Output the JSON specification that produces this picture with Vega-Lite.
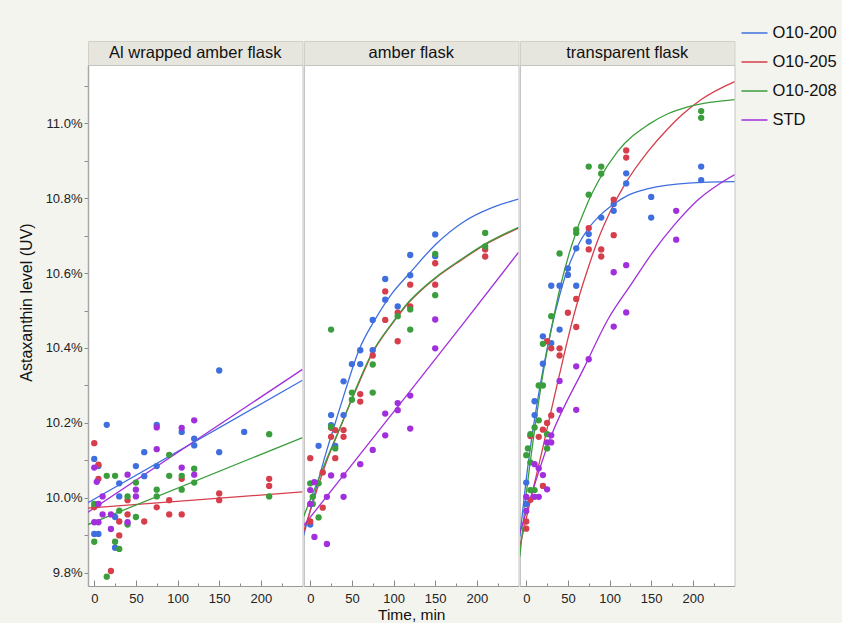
{
"$schema": "https://vega.github.io/schema/vega-lite/v6.json",
"background": "#f4f4ef",
"padding": {"left": 17, "top": 19, "right": 4, "bottom": 0},
"config": {
 "font": "Liberation Sans",
 "view": {"stroke": "#c4c4c4", "fill": "white"},
 "axis": {"grid": false, "labelFontSize": 13, "labelColor": "#222", "titleFontSize": 16, "titleFontWeight": "normal", "titleColor": "#111", "domainColor": "#9a9a9a", "tickColor": "#8a8a8a", "labelFont": "Liberation Sans", "titleFont": "Liberation Sans"},
 "legend": {"labelFontSize": 16.5, "labelFont": "Liberation Sans", "labelColor": "#111", "padding": 0}
},
"datasets": {
 "strips": [{"p": 1, "name": "Al wrapped amber flask"}, {"p": 2, "name": "amber flask"}, {"p": 3, "name": "transparent flask"}],
 "pts": [
 {"p":1,"s":"O10-200","t":0,"v":10.104},{"p":1,"s":"O10-200","t":0,"v":9.904},{"p":1,"s":"O10-200","t":5,"v":10.085},{"p":1,"s":"O10-200","t":5,"v":9.904},{"p":1,"s":"O10-200","t":15,"v":10.195},{"p":1,"s":"O10-200","t":25,"v":9.949},{"p":1,"s":"O10-200","t":25,"v":9.867},{"p":1,"s":"O10-200","t":30,"v":10.039},{"p":1,"s":"O10-200","t":30,"v":10.004},{"p":1,"s":"O10-200","t":50,"v":10.085},{"p":1,"s":"O10-200","t":60,"v":10.122},{"p":1,"s":"O10-200","t":60,"v":10.058},{"p":1,"s":"O10-200","t":75,"v":10.195},{"p":1,"s":"O10-200","t":75,"v":10.085},{"p":1,"s":"O10-200","t":105,"v":10.176},{"p":1,"s":"O10-200","t":120,"v":10.158},{"p":1,"s":"O10-200","t":120,"v":10.140},{"p":1,"s":"O10-200","t":150,"v":10.122},{"p":1,"s":"O10-200","t":150,"v":10.34},{"p":1,"s":"O10-200","t":180,"v":10.176},
 {"p":1,"s":"O10-205","t":0,"v":10.146},{"p":1,"s":"O10-205","t":0,"v":9.975},{"p":1,"s":"O10-205","t":5,"v":10.089},{"p":1,"s":"O10-205","t":5,"v":10.051},{"p":1,"s":"O10-205","t":20,"v":9.805},{"p":1,"s":"O10-205","t":30,"v":9.937},{"p":1,"s":"O10-205","t":30,"v":9.900},{"p":1,"s":"O10-205","t":40,"v":9.994},{"p":1,"s":"O10-205","t":40,"v":9.956},{"p":1,"s":"O10-205","t":60,"v":9.937},{"p":1,"s":"O10-205","t":75,"v":9.975},{"p":1,"s":"O10-205","t":90,"v":9.994},{"p":1,"s":"O10-205","t":90,"v":9.956},{"p":1,"s":"O10-205","t":105,"v":10.051},{"p":1,"s":"O10-205","t":105,"v":9.956},{"p":1,"s":"O10-205","t":150,"v":10.012},{"p":1,"s":"O10-205","t":150,"v":9.994},{"p":1,"s":"O10-205","t":210,"v":10.051},{"p":1,"s":"O10-205","t":210,"v":10.032},
 {"p":1,"s":"O10-208","t":0,"v":9.984},{"p":1,"s":"O10-208","t":0,"v":9.883},{"p":1,"s":"O10-208","t":15,"v":10.059},{"p":1,"s":"O10-208","t":15,"v":9.790},{"p":1,"s":"O10-208","t":25,"v":10.059},{"p":1,"s":"O10-208","t":25,"v":9.883},{"p":1,"s":"O10-208","t":30,"v":9.966},{"p":1,"s":"O10-208","t":30,"v":9.864},{"p":1,"s":"O10-208","t":40,"v":10.004},{"p":1,"s":"O10-208","t":40,"v":9.929},{"p":1,"s":"O10-208","t":50,"v":10.041},{"p":1,"s":"O10-208","t":50,"v":9.949},{"p":1,"s":"O10-208","t":75,"v":10.022},{"p":1,"s":"O10-208","t":75,"v":10.004},{"p":1,"s":"O10-208","t":90,"v":10.115},{"p":1,"s":"O10-208","t":90,"v":10.059},{"p":1,"s":"O10-208","t":105,"v":10.059},{"p":1,"s":"O10-208","t":105,"v":10.022},{"p":1,"s":"O10-208","t":120,"v":10.078},{"p":1,"s":"O10-208","t":120,"v":10.041},{"p":1,"s":"O10-208","t":210,"v":10.170},{"p":1,"s":"O10-208","t":210,"v":10.004},
 {"p":1,"s":"STD","t":0,"v":10.081},{"p":1,"s":"STD","t":0,"v":9.935},{"p":1,"s":"STD","t":3,"v":10.043},{"p":1,"s":"STD","t":5,"v":9.984},{"p":1,"s":"STD","t":5,"v":9.935},{"p":1,"s":"STD","t":10,"v":10.004},{"p":1,"s":"STD","t":10,"v":9.956},{"p":1,"s":"STD","t":20,"v":9.956},{"p":1,"s":"STD","t":20,"v":9.917},{"p":1,"s":"STD","t":40,"v":10.062},{"p":1,"s":"STD","t":40,"v":9.935},{"p":1,"s":"STD","t":50,"v":10.022},{"p":1,"s":"STD","t":50,"v":10.004},{"p":1,"s":"STD","t":75,"v":10.188},{"p":1,"s":"STD","t":75,"v":10.130},{"p":1,"s":"STD","t":105,"v":10.187},{"p":1,"s":"STD","t":105,"v":10.081},{"p":1,"s":"STD","t":120,"v":10.207},{"p":1,"s":"STD","t":120,"v":10.062},
 {"p":2,"s":"O10-200","t":0,"v":9.929},{"p":2,"s":"O10-200","t":10,"v":10.139},{"p":2,"s":"O10-200","t":25,"v":10.221},{"p":2,"s":"O10-200","t":25,"v":10.194},{"p":2,"s":"O10-200","t":30,"v":10.139},{"p":2,"s":"O10-200","t":40,"v":10.311},{"p":2,"s":"O10-200","t":40,"v":10.221},{"p":2,"s":"O10-200","t":50,"v":10.357},{"p":2,"s":"O10-200","t":60,"v":10.394},{"p":2,"s":"O10-200","t":60,"v":10.357},{"p":2,"s":"O10-200","t":75,"v":10.475},{"p":2,"s":"O10-200","t":75,"v":10.394},{"p":2,"s":"O10-200","t":90,"v":10.584},{"p":2,"s":"O10-200","t":90,"v":10.529},{"p":2,"s":"O10-200","t":105,"v":10.511},{"p":2,"s":"O10-200","t":120,"v":10.648},{"p":2,"s":"O10-200","t":120,"v":10.594},{"p":2,"s":"O10-200","t":150,"v":10.703},{"p":2,"s":"O10-200","t":150,"v":10.645},
 {"p":2,"s":"O10-205","t":0,"v":10.106},{"p":2,"s":"O10-205","t":0,"v":9.937},{"p":2,"s":"O10-205","t":15,"v":10.068},{"p":2,"s":"O10-205","t":15,"v":9.974},{"p":2,"s":"O10-205","t":25,"v":10.187},{"p":2,"s":"O10-205","t":25,"v":10.163},{"p":2,"s":"O10-205","t":30,"v":10.181},{"p":2,"s":"O10-205","t":30,"v":10.106},{"p":2,"s":"O10-205","t":40,"v":10.181},{"p":2,"s":"O10-205","t":40,"v":10.163},{"p":2,"s":"O10-205","t":60,"v":10.277},{"p":2,"s":"O10-205","t":60,"v":10.257},{"p":2,"s":"O10-205","t":75,"v":10.380},{"p":2,"s":"O10-205","t":90,"v":10.551},{"p":2,"s":"O10-205","t":90,"v":10.475},{"p":2,"s":"O10-205","t":105,"v":10.494},{"p":2,"s":"O10-205","t":105,"v":10.418},{"p":2,"s":"O10-205","t":120,"v":10.569},{"p":2,"s":"O10-205","t":120,"v":10.511},{"p":2,"s":"O10-205","t":150,"v":10.626},{"p":2,"s":"O10-205","t":150,"v":10.569},{"p":2,"s":"O10-205","t":210,"v":10.663},{"p":2,"s":"O10-205","t":210,"v":10.644},
 {"p":2,"s":"O10-208","t":0,"v":10.039},{"p":2,"s":"O10-208","t":3,"v":10.003},{"p":2,"s":"O10-208","t":3,"v":9.984},{"p":2,"s":"O10-208","t":10,"v":10.039},{"p":2,"s":"O10-208","t":10,"v":9.948},{"p":2,"s":"O10-208","t":25,"v":10.449},{"p":2,"s":"O10-208","t":25,"v":10.190},{"p":2,"s":"O10-208","t":30,"v":10.132},{"p":2,"s":"O10-208","t":50,"v":10.281},{"p":2,"s":"O10-208","t":50,"v":10.262},{"p":2,"s":"O10-208","t":75,"v":10.356},{"p":2,"s":"O10-208","t":75,"v":10.281},{"p":2,"s":"O10-208","t":105,"v":10.485},{"p":2,"s":"O10-208","t":120,"v":10.503},{"p":2,"s":"O10-208","t":120,"v":10.449},{"p":2,"s":"O10-208","t":150,"v":10.651},{"p":2,"s":"O10-208","t":150,"v":10.541},{"p":2,"s":"O10-208","t":210,"v":10.707},{"p":2,"s":"O10-208","t":210,"v":10.671},
 {"p":2,"s":"STD","t":0,"v":10.021},{"p":2,"s":"STD","t":0,"v":9.984},{"p":2,"s":"STD","t":5,"v":10.042},{"p":2,"s":"STD","t":5,"v":9.896},{"p":2,"s":"STD","t":20,"v":10.003},{"p":2,"s":"STD","t":20,"v":9.877},{"p":2,"s":"STD","t":25,"v":10.060},{"p":2,"s":"STD","t":40,"v":10.060},{"p":2,"s":"STD","t":40,"v":10.003},{"p":2,"s":"STD","t":60,"v":10.090},{"p":2,"s":"STD","t":75,"v":10.128},{"p":2,"s":"STD","t":90,"v":10.225},{"p":2,"s":"STD","t":90,"v":10.167},{"p":2,"s":"STD","t":105,"v":10.253},{"p":2,"s":"STD","t":105,"v":10.234},{"p":2,"s":"STD","t":120,"v":10.273},{"p":2,"s":"STD","t":120,"v":10.185},{"p":2,"s":"STD","t":150,"v":10.476},{"p":2,"s":"STD","t":150,"v":10.399},
 {"p":3,"s":"O10-200","t":0,"v":10.041},{"p":3,"s":"O10-200","t":0,"v":9.984},{"p":3,"s":"O10-200","t":10,"v":10.258},{"p":3,"s":"O10-200","t":10,"v":10.221},{"p":3,"s":"O10-200","t":20,"v":10.431},{"p":3,"s":"O10-200","t":20,"v":10.358},{"p":3,"s":"O10-200","t":30,"v":10.566},{"p":3,"s":"O10-200","t":30,"v":10.413},{"p":3,"s":"O10-200","t":40,"v":10.566},{"p":3,"s":"O10-200","t":40,"v":10.449},{"p":3,"s":"O10-200","t":50,"v":10.612},{"p":3,"s":"O10-200","t":50,"v":10.595},{"p":3,"s":"O10-200","t":60,"v":10.666},{"p":3,"s":"O10-200","t":60,"v":10.566},{"p":3,"s":"O10-200","t":75,"v":10.704},{"p":3,"s":"O10-200","t":75,"v":10.684},{"p":3,"s":"O10-200","t":90,"v":10.748},{"p":3,"s":"O10-200","t":105,"v":10.784},{"p":3,"s":"O10-200","t":105,"v":10.766},{"p":3,"s":"O10-200","t":120,"v":10.866},{"p":3,"s":"O10-200","t":120,"v":10.839},{"p":3,"s":"O10-200","t":150,"v":10.803},{"p":3,"s":"O10-200","t":150,"v":10.748},{"p":3,"s":"O10-200","t":210,"v":10.884},{"p":3,"s":"O10-200","t":210,"v":10.848},
 {"p":3,"s":"O10-205","t":0,"v":9.937},{"p":3,"s":"O10-205","t":0,"v":9.918},{"p":3,"s":"O10-205","t":5,"v":10.165},{"p":3,"s":"O10-205","t":5,"v":9.995},{"p":3,"s":"O10-205","t":15,"v":10.163},{"p":3,"s":"O10-205","t":20,"v":10.182},{"p":3,"s":"O10-205","t":20,"v":10.032},{"p":3,"s":"O10-205","t":25,"v":10.418},{"p":3,"s":"O10-205","t":25,"v":10.200},{"p":3,"s":"O10-205","t":30,"v":10.399},{"p":3,"s":"O10-205","t":30,"v":10.220},{"p":3,"s":"O10-205","t":40,"v":10.399},{"p":3,"s":"O10-205","t":40,"v":10.380},{"p":3,"s":"O10-205","t":50,"v":10.494},{"p":3,"s":"O10-205","t":60,"v":10.531},{"p":3,"s":"O10-205","t":60,"v":10.456},{"p":3,"s":"O10-205","t":75,"v":10.720},{"p":3,"s":"O10-205","t":75,"v":10.663},{"p":3,"s":"O10-205","t":90,"v":10.663},{"p":3,"s":"O10-205","t":90,"v":10.644},{"p":3,"s":"O10-205","t":105,"v":10.796},{"p":3,"s":"O10-205","t":105,"v":10.701},{"p":3,"s":"O10-205","t":120,"v":10.927},{"p":3,"s":"O10-205","t":120,"v":10.908},
 {"p":3,"s":"O10-208","t":0,"v":10.114},{"p":3,"s":"O10-208","t":2,"v":10.132},{"p":3,"s":"O10-208","t":5,"v":10.170},{"p":3,"s":"O10-208","t":5,"v":10.095},{"p":3,"s":"O10-208","t":5,"v":10.021},{"p":3,"s":"O10-208","t":10,"v":10.188},{"p":3,"s":"O10-208","t":10,"v":10.021},{"p":3,"s":"O10-208","t":15,"v":10.300},{"p":3,"s":"O10-208","t":15,"v":10.207},{"p":3,"s":"O10-208","t":20,"v":10.300},{"p":3,"s":"O10-208","t":20,"v":10.411},{"p":3,"s":"O10-208","t":25,"v":10.170},{"p":3,"s":"O10-208","t":25,"v":10.132},{"p":3,"s":"O10-208","t":30,"v":10.485},{"p":3,"s":"O10-208","t":40,"v":10.652},{"p":3,"s":"O10-208","t":60,"v":10.716},{"p":3,"s":"O10-208","t":60,"v":10.707},{"p":3,"s":"O10-208","t":75,"v":10.884},{"p":3,"s":"O10-208","t":75,"v":10.809},{"p":3,"s":"O10-208","t":90,"v":10.884},{"p":3,"s":"O10-208","t":90,"v":10.865},{"p":3,"s":"O10-208","t":210,"v":11.032},{"p":3,"s":"O10-208","t":210,"v":11.014},
 {"p":3,"s":"STD","t":0,"v":10.003},{"p":3,"s":"STD","t":0,"v":9.965},{"p":3,"s":"STD","t":10,"v":10.090},{"p":3,"s":"STD","t":10,"v":10.003},{"p":3,"s":"STD","t":15,"v":10.079},{"p":3,"s":"STD","t":15,"v":10.003},{"p":3,"s":"STD","t":20,"v":10.061},{"p":3,"s":"STD","t":25,"v":10.148},{"p":3,"s":"STD","t":25,"v":10.023},{"p":3,"s":"STD","t":30,"v":10.167},{"p":3,"s":"STD","t":30,"v":10.148},{"p":3,"s":"STD","t":40,"v":10.312},{"p":3,"s":"STD","t":40,"v":10.235},{"p":3,"s":"STD","t":60,"v":10.351},{"p":3,"s":"STD","t":60,"v":10.235},{"p":3,"s":"STD","t":75,"v":10.370},{"p":3,"s":"STD","t":105,"v":10.457},{"p":3,"s":"STD","t":105,"v":10.602},{"p":3,"s":"STD","t":120,"v":10.621},{"p":3,"s":"STD","t":120,"v":10.495},{"p":3,"s":"STD","t":180,"v":10.766},{"p":3,"s":"STD","t":180,"v":10.689}
 ],
 "fit": [
 {"p":1,"s":"O10-200","t":-7.5,"v":9.987},{"p":1,"s":"O10-200","t":250,"v":10.314},
 {"p":1,"s":"O10-205","t":-7.5,"v":9.973},{"p":1,"s":"O10-205","t":250,"v":10.016},
 {"p":1,"s":"O10-208","t":-7.5,"v":9.929},{"p":1,"s":"O10-208","t":250,"v":10.161},
 {"p":1,"s":"STD","t":-7.5,"v":9.962},{"p":1,"s":"STD","t":250,"v":10.343},
 {"p":2,"s":"O10-200","t":-8,"v":9.899},{"p":2,"s":"O10-200","t":0,"v":9.967},{"p":2,"s":"O10-200","t":10,"v":10.05},{"p":2,"s":"O10-200","t":20,"v":10.128},{"p":2,"s":"O10-200","t":30,"v":10.2},{"p":2,"s":"O10-200","t":42.2,"v":10.287},{"p":2,"s":"O10-200","t":58.4,"v":10.394},{"p":2,"s":"O10-200","t":78.4,"v":10.478},{"p":2,"s":"O10-200","t":98,"v":10.545},{"p":2,"s":"O10-200","t":118.7,"v":10.598},{"p":2,"s":"O10-200","t":150.8,"v":10.677},{"p":2,"s":"O10-200","t":183,"v":10.735},{"p":2,"s":"O10-200","t":219,"v":10.775},{"p":2,"s":"O10-200","t":250,"v":10.797},
 {"p":2,"s":"O10-205","t":-8,"v":9.91},{"p":2,"s":"O10-205","t":0,"v":9.965},{"p":2,"s":"O10-205","t":10,"v":10.035},{"p":2,"s":"O10-205","t":20,"v":10.1},{"p":2,"s":"O10-205","t":30,"v":10.155},{"p":2,"s":"O10-205","t":40,"v":10.21},{"p":2,"s":"O10-205","t":54.3,"v":10.285},{"p":2,"s":"O10-205","t":74.4,"v":10.385},{"p":2,"s":"O10-205","t":98.5,"v":10.465},{"p":2,"s":"O10-205","t":118.6,"v":10.522},{"p":2,"s":"O10-205","t":138.7,"v":10.565},{"p":2,"s":"O10-205","t":150.8,"v":10.587},{"p":2,"s":"O10-205","t":178.9,"v":10.631},{"p":2,"s":"O10-205","t":211,"v":10.677},{"p":2,"s":"O10-205","t":250,"v":10.72},
 {"p":2,"s":"O10-208","t":-8,"v":9.95},{"p":2,"s":"O10-208","t":0,"v":9.995},{"p":2,"s":"O10-208","t":10,"v":10.05},{"p":2,"s":"O10-208","t":20,"v":10.105},{"p":2,"s":"O10-208","t":30,"v":10.158},{"p":2,"s":"O10-208","t":40,"v":10.21},{"p":2,"s":"O10-208","t":54.3,"v":10.289},{"p":2,"s":"O10-208","t":74.4,"v":10.388},{"p":2,"s":"O10-208","t":98.5,"v":10.467},{"p":2,"s":"O10-208","t":118.6,"v":10.524},{"p":2,"s":"O10-208","t":138.7,"v":10.567},{"p":2,"s":"O10-208","t":150.8,"v":10.589},{"p":2,"s":"O10-208","t":178.9,"v":10.633},{"p":2,"s":"O10-208","t":211,"v":10.679},{"p":2,"s":"O10-208","t":250,"v":10.722},
 {"p":2,"s":"STD","t":-8,"v":9.926},{"p":2,"s":"STD","t":60,"v":10.117},{"p":2,"s":"STD","t":120.6,"v":10.287},{"p":2,"s":"STD","t":185,"v":10.469},{"p":2,"s":"STD","t":250,"v":10.655},
 {"p":3,"s":"O10-200","t":-7.7,"v":9.897},{"p":3,"s":"O10-200","t":0,"v":10.05},{"p":3,"s":"O10-200","t":10,"v":10.21},{"p":3,"s":"O10-200","t":20,"v":10.34},{"p":3,"s":"O10-200","t":30,"v":10.45},{"p":3,"s":"O10-200","t":40,"v":10.54},{"p":3,"s":"O10-200","t":49.6,"v":10.61},{"p":3,"s":"O10-200","t":60,"v":10.665},{"p":3,"s":"O10-200","t":74.2,"v":10.718},{"p":3,"s":"O10-200","t":86,"v":10.748},{"p":3,"s":"O10-200","t":104,"v":10.782},{"p":3,"s":"O10-200","t":122,"v":10.807},{"p":3,"s":"O10-200","t":146.5,"v":10.825},{"p":3,"s":"O10-200","t":194.9,"v":10.84},{"p":3,"s":"O10-200","t":251,"v":10.844},
 {"p":3,"s":"O10-205","t":-7.7,"v":9.87},{"p":3,"s":"O10-205","t":0,"v":9.945},{"p":3,"s":"O10-205","t":10,"v":10.04},{"p":3,"s":"O10-205","t":20,"v":10.135},{"p":3,"s":"O10-205","t":29.5,"v":10.229},{"p":3,"s":"O10-205","t":40,"v":10.33},{"p":3,"s":"O10-205","t":50,"v":10.425},{"p":3,"s":"O10-205","t":63.8,"v":10.54},{"p":3,"s":"O10-205","t":75,"v":10.618},{"p":3,"s":"O10-205","t":86,"v":10.688},{"p":3,"s":"O10-205","t":100,"v":10.76},{"p":3,"s":"O10-205","t":118,"v":10.835},{"p":3,"s":"O10-205","t":146.5,"v":10.925},{"p":3,"s":"O10-205","t":170,"v":10.985},{"p":3,"s":"O10-205","t":187,"v":11.022},{"p":3,"s":"O10-205","t":210,"v":11.063},{"p":3,"s":"O10-205","t":251.4,"v":11.112},
 {"p":3,"s":"O10-208","t":-7.7,"v":9.844},{"p":3,"s":"O10-208","t":0,"v":10.01},{"p":3,"s":"O10-208","t":10,"v":10.18},{"p":3,"s":"O10-208","t":20,"v":10.33},{"p":3,"s":"O10-208","t":30,"v":10.45},{"p":3,"s":"O10-208","t":35.5,"v":10.51},{"p":3,"s":"O10-208","t":41.6,"v":10.57},{"p":3,"s":"O10-208","t":53.7,"v":10.668},{"p":3,"s":"O10-208","t":74.2,"v":10.79},{"p":3,"s":"O10-208","t":86,"v":10.843},{"p":3,"s":"O10-208","t":110,"v":10.925},{"p":3,"s":"O10-208","t":146.5,"v":10.996},{"p":3,"s":"O10-208","t":170,"v":11.025},{"p":3,"s":"O10-208","t":195,"v":11.044},{"p":3,"s":"O10-208","t":251.4,"v":11.063},
 {"p":3,"s":"STD","t":-7.7,"v":9.906},{"p":3,"s":"STD","t":29.5,"v":10.163},{"p":3,"s":"STD","t":69.8,"v":10.349},{"p":3,"s":"STD","t":98,"v":10.476},{"p":3,"s":"STD","t":126.3,"v":10.571},{"p":3,"s":"STD","t":150.5,"v":10.651},{"p":3,"s":"STD","t":178.8,"v":10.731},{"p":3,"s":"STD","t":207,"v":10.797},{"p":3,"s":"STD","t":231.2,"v":10.837},{"p":3,"s":"STD","t":251.4,"v":10.864}
 ]
},
"columns": 3,
"spacing": {"row": 0, "column": 1},
"bounds": "flush",
"concat": [
 {"width": 214.5, "height": 24, "data": {"name": "strips"}, "transform": [{"filter": "datum.p == 1"}], "view": {"fill": "#e7e6de", "stroke": "#d2d0c7"}, "mark": {"type": "text", "fontSize": 16.5, "color": "#111", "font": "Liberation Sans"}, "encoding": {"text": {"field": "name"}}},
 {"width": 214.5, "height": 24, "data": {"name": "strips"}, "transform": [{"filter": "datum.p == 2"}], "view": {"fill": "#e7e6de", "stroke": "#d2d0c7"}, "mark": {"type": "text", "fontSize": 16.5, "color": "#111", "font": "Liberation Sans"}, "encoding": {"text": {"field": "name"}}},
 {"width": 214.5, "height": 24, "data": {"name": "strips"}, "transform": [{"filter": "datum.p == 3"}], "view": {"fill": "#e7e6de", "stroke": "#d2d0c7"}, "mark": {"type": "text", "fontSize": 16.5, "color": "#111", "font": "Liberation Sans"}, "encoding": {"text": {"field": "name"}}},
 {"width": 214.5, "height": 521,
  "layer": [
   {"data": {"name": "fit"}, "transform": [{"filter": "datum.p == 1"}], "mark": {"type": "line", "strokeWidth": 1.3, "clip": true, "interpolate": "monotone"},
    "encoding": {"x": {"field": "t", "type": "quantitative"}, "y": {"field": "v", "type": "quantitative"}, "detail": {"field": "s"},
     "color": {"field": "s", "type": "nominal", "scale": {"domain": ["O10-200", "O10-205", "O10-208", "STD"], "range": ["#3f6fde", "#d63e4c", "#3a9e3c", "#a12fdc"]}, "legend": {"orient": "none", "legendX": 652.5, "legendY": -22, "title": null, "symbolType": "stroke", "symbolSize": 676, "symbolStrokeWidth": 1.5, "rowPadding": 6, "labelOffset": 4}}}},
   {"data": {"name": "pts"}, "transform": [{"filter": "datum.p == 1"}], "mark": {"type": "circle", "size": 40, "opacity": 1, "clip": true},
    "encoding": {"x": {"field": "t", "type": "quantitative"}, "y": {"field": "v", "type": "quantitative"}, "color": {"field": "s", "type": "nominal", "legend": null}}}
  ],
  "encoding": {
   "x": {"field": "t", "type": "quantitative", "scale": {"domain": [-7.5, 250], "nice": false, "zero": false}, "axis": {"title": null, "values": [0,25,50,75,100,125,150,175,200,225], "labelExpr": "datum.value % 50 == 0 ? datum.label : ''", "tickSize": {"condition": {"test": "datum.value % 50 == 0", "value": -6}, "value": -3}, "labelPadding": 12, "labelFlush": false}},
   "y": {"field": "v", "type": "quantitative", "scale": {"domain": [9.765, 11.155], "nice": false, "zero": false}, "axis": {"title": "Astaxanthin level (UV)", "values": [9.8,9.9,10.0,10.1,10.2,10.3,10.4,10.5,10.6,10.7,10.8,10.9,11.0,11.1], "labelExpr": "round(datum.value*10) % 2 == 0 ? format(datum.value, '.1f') + '%' : ''", "tickSize": 4, "labelPadding": 2, "titlePadding": 11, "titleY": 237, "domainColor": "#a8a8a8", "domainWidth": 1.5}}
  }
 },
 {"width": 214.5, "height": 521,
  "layer": [
   {"data": {"name": "fit"}, "transform": [{"filter": "datum.p == 2"}], "mark": {"type": "line", "strokeWidth": 1.3, "clip": true, "interpolate": "monotone"},
    "encoding": {"detail": {"field": "s"}, "color": {"field": "s", "type": "nominal", "legend": {"orient": "none", "legendX": 652.5, "legendY": -22, "title": null, "symbolType": "stroke", "symbolSize": 676, "symbolStrokeWidth": 1.5, "rowPadding": 6, "labelOffset": 4}}}},
   {"data": {"name": "pts"}, "transform": [{"filter": "datum.p == 2"}], "mark": {"type": "circle", "size": 40, "opacity": 1, "clip": true},
    "encoding": {"color": {"field": "s", "type": "nominal", "legend": null}}}
  ],
  "encoding": {
   "x": {"field": "t", "type": "quantitative", "scale": {"domain": [-7.5, 250], "nice": false, "zero": false}, "axis": {"title": "Time, min", "titleFontSize": 15.5, "values": [0,25,50,75,100,125,150,175,200,225], "labelExpr": "datum.value % 50 == 0 ? datum.label : ''", "tickSize": {"condition": {"test": "datum.value % 50 == 0", "value": -6}, "value": -3}, "labelPadding": 12, "titlePadding": 2, "labelFlush": false}},
   "y": {"field": "v", "type": "quantitative", "scale": {"domain": [9.765, 11.155], "nice": false, "zero": false}, "axis": null}
  }
 },
 {"width": 214.5, "height": 521,
  "layer": [
   {"data": {"name": "fit"}, "transform": [{"filter": "datum.p == 3"}], "mark": {"type": "line", "strokeWidth": 1.3, "clip": true, "interpolate": "monotone"},
    "encoding": {"detail": {"field": "s"}, "color": {"field": "s", "type": "nominal", "legend": {"orient": "none", "legendX": 652.5, "legendY": -22, "title": null, "symbolType": "stroke", "symbolSize": 676, "symbolStrokeWidth": 1.5, "rowPadding": 6, "labelOffset": 4}}}},
   {"data": {"name": "pts"}, "transform": [{"filter": "datum.p == 3"}], "mark": {"type": "circle", "size": 40, "opacity": 1, "clip": true},
    "encoding": {"color": {"field": "s", "type": "nominal", "legend": null}}}
  ],
  "encoding": {
   "x": {"field": "t", "type": "quantitative", "scale": {"domain": [-7.5, 250], "nice": false, "zero": false}, "axis": {"title": null, "values": [0,25,50,75,100,125,150,175,200,225], "labelExpr": "datum.value % 50 == 0 ? datum.label : ''", "tickSize": {"condition": {"test": "datum.value % 50 == 0", "value": -6}, "value": -3}, "labelPadding": 12, "labelFlush": false}},
   "y": {"field": "v", "type": "quantitative", "scale": {"domain": [9.765, 11.155], "nice": false, "zero": false}, "axis": null}
  }
 }
]
}
